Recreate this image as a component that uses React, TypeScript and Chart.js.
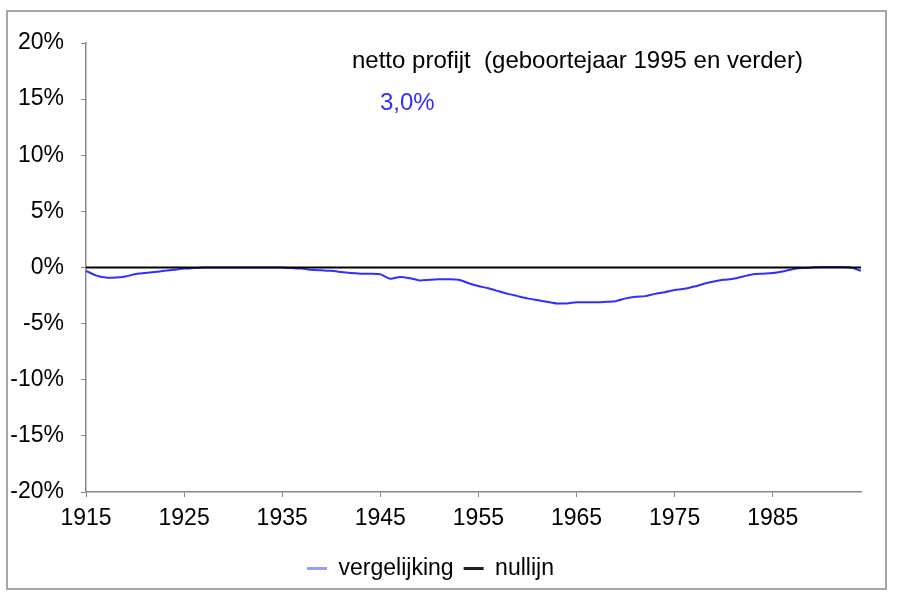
import { useEffect, useRef } from "react";
import { Chart, registerables, Plugin } from "chart.js";

Chart.register(...registerables);

// years 1915 .. 1994
const years: string[] = [];
for (let y = 1915; y <= 1994; y++) years.push(String(y));

// vergelijking (%)
const vergelijking = [
  -0.3, -0.7, -0.9, -0.9, -0.8, -0.6, -0.5, -0.4, -0.3, -0.2,
  -0.1, -0.05, 0, 0, 0, 0, 0, 0, 0, 0,
  0, -0.05, -0.1, -0.2, -0.25, -0.3, -0.4, -0.5, -0.55, -0.55,
  -0.6, -1.0, -0.85, -0.95, -1.15, -1.1, -1.05, -1.05, -1.1, -1.4,
  -1.65, -1.85, -2.1, -2.35, -2.55, -2.75, -2.9, -3.05, -3.2, -3.2,
  -3.1, -3.1, -3.1, -3.05, -3.0, -2.75, -2.6, -2.55, -2.35, -2.2,
  -2.0, -1.9, -1.7, -1.45, -1.25, -1.1, -1.0, -0.8, -0.6, -0.55,
  -0.5, -0.35, -0.15, -0.05, 0, 0.05, 0.05, 0.05, 0, -0.3,
];
const nullijn = years.map(() => 0);

const titleText = "netto profijt  (geboortejaar 1995 en verder)";
const profitText = "3,0%";

const FONT = "'Liberation Sans', Arial, sans-serif";

// frame + text boxes inside the chart
const decorations: Plugin<"line"> = {
  id: "decorations",
  beforeDraw(chart) {
    const ctx = chart.ctx;
    ctx.save();
    ctx.fillStyle = "#ffffff";
    ctx.fillRect(0, 0, chart.width, chart.height);
    ctx.strokeStyle = "#a6a6a6";
    ctx.lineWidth = 2;
    ctx.strokeRect(7, 11, 879, 578);
    ctx.restore();
  },
  afterDraw(chart) {
    const ctx = chart.ctx;
    ctx.save();
    ctx.font = `24px ${FONT}`;
    ctx.textBaseline = "middle";
    ctx.fillStyle = "#000000";
    ctx.fillText(titleText, 352, 61);
    ctx.fillStyle = "#2f2fff";
    ctx.fillText(profitText, 380, 103);
    ctx.restore();
  },
};

export default function App() {
  const canvasRef = useRef<HTMLCanvasElement>(null);

  useEffect(() => {
    if (!canvasRef.current) return;
    const chart = new Chart(canvasRef.current, {
      type: "line",
      data: {
        labels: years,
        datasets: [
          {
            label: "vergelijking",
            data: vergelijking,
            borderColor: "#2f2fff",
            backgroundColor: "#9a9aff",
            borderWidth: 2,
            pointRadius: 0,
            tension: 0.2,
            order: 1,
          },
          {
            label: "nullijn",
            data: nullijn,
            borderColor: "#000000",
            backgroundColor: "#202020",
            borderWidth: 2,
            pointRadius: 0,
            order: 0,
          },
        ],
      },
      options: {
        responsive: false,
        animation: false,
        devicePixelRatio: 1,
        layout: { padding: { left: 0, right: 40, top: 43, bottom: 11 } },
        scales: {
          x: {
            offset: false,
            afterFit: (scale) => {
              scale.height = 55;
            },
            border: { color: "#868686", width: 1.5 },
            grid: {
              drawOnChartArea: false,
              tickLength: 5,
              color: (c) => (c.index % 10 === 0 ? "#868686" : "rgba(0,0,0,0)"),
            },
            ticks: {
              autoSkip: false,
              maxRotation: 0,
              padding: 8,
              color: "#000000",
              font: { family: FONT, size: 23 },
              callback: (_v, i) => (i % 10 === 0 ? years[i] : ""),
            },
          },
          y: {
            min: -20,
            max: 20,
            afterFit: (scale) => {
              scale.width = 86;
            },
            border: { color: "#868686", width: 1.5 },
            grid: { drawOnChartArea: false, tickLength: 5, color: "#868686" },
            ticks: {
              stepSize: 5,
              padding: 17,
              color: "#000000",
              font: { family: FONT, size: 23 },
              callback: (v) => `${v}%`,
            },
          },
        },
        plugins: {
          legend: {
            position: "bottom",
            labels: {
              color: "#000000",
              font: { family: FONT, size: 23 },
              boxWidth: 20,
              boxHeight: 3,
              padding: 10,
              sort: (a, b) => (a.datasetIndex ?? 0) - (b.datasetIndex ?? 0),
              generateLabels: (chart) =>
                Chart.defaults.plugins.legend.labels
                  .generateLabels(chart)
                  .map((l) => ({ ...l, lineWidth: 0 })),
            },
          },
          tooltip: { enabled: false },
        },
      },
      plugins: [decorations],
    });
    return () => chart.destroy();
  }, []);

  return (
    <div style={{ position: "absolute", left: 0, top: 0, width: 901, height: 601 }}>
      <canvas ref={canvasRef} width={901} height={601} />
    </div>
  );
}
